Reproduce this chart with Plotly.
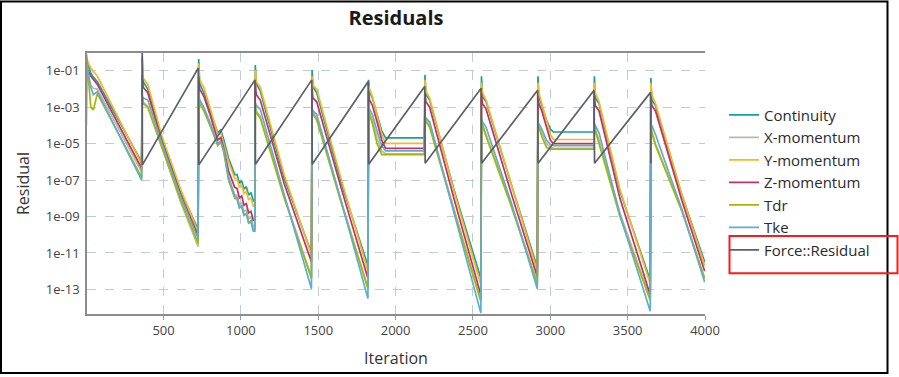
import plotly.graph_objects as go

# ---------------- data ----------------
iterations = [1, 6, 30, 46, 72, 358,
              362, 368, 398, 490, 610, 723,
              727, 733, 760, 800, 850, 870, 890, 920, 960, 975, 990, 1005, 1020, 1035, 1050, 1065, 1080, 1090,
              1093, 1099, 1125, 1280, 1456,
              1460, 1466, 1490, 1650, 1821,
              1825, 1831, 1850, 1880, 1910, 1935, 2186,
              2190, 2196, 2220, 2380, 2551,
              2555, 2561, 2585, 2750, 2916,
              2920, 2926, 2945, 2975, 3000, 3020, 3281,
              3285, 3291, 3315, 3450, 3646,
              3650, 3656, 3680, 3850, 3998]

continuity = [8e-1, 2.8e-1, 7.4e-2, 4.5e-2, 2.5e-2, 1e-6,
              6e-1, 2.5e-2, 1e-2, 2e-5, 2.5e-8, 2e-10,
              4.5e-1, 2e-2, 6.3e-3, 6.3e-4, 4e-5, 5.6e-5, 1.6e-5, 1.6e-6, 2e-7, 2e-7, 6.8e-8, 9.3e-8, 3.2e-8, 4.4e-8, 1.5e-8, 2.1e-8, 7.4e-9, 8.9e-9,
              2.1e-1, 2e-2, 7.9e-3, 1.26e-7, 1e-11,
              1.1e-1, 1.26e-2, 6.3e-3, 6.3e-8, 2e-12,
              3.2e-2, 7.9e-3, 3.2e-3, 4e-4, 5e-5, 2.1e-5, 2.1e-5,
              6e-2, 5e-3, 2.5e-3, 2.5e-8, 4e-13,
              5e-2, 4e-3, 2e-3, 5e-8, 1.6e-12,
              5e-2, 4e-3, 1.26e-3, 2e-4, 6.3e-5, 4.4e-5, 4.4e-5,
              5e-2, 3.2e-3, 1.6e-3, 2.5e-8, 3.2e-13,
              4e-2, 2.5e-3, 1.26e-3, 1.6e-8, 3.2e-12]

x_momentum = [3.2e-1, 5e-2, 1.6e-2, 1.1e-2, 1e-2, 2.8e-7,
              5e-3, 2e-3, 1.1e-3, 6.3e-6, 6.3e-9, 2.2e-11,
              1e-2, 2.5e-3, 1e-3, 1.6e-4, 1e-5, 1.6e-5, 4e-6, 1.6e-7, 1.6e-8, 1.4e-8, 4.6e-9, 5.8e-9, 1.9e-9, 2.3e-9, 7.4e-10, 9.5e-10, 3e-10, 3.2e-10,
              1.6e-3, 6.3e-4, 3.2e-4, 1.26e-8, 5e-13,
              1e-3, 5e-4, 2.5e-4, 6.3e-9, 1.26e-13,
              1e-3, 5e-4, 2e-4, 2e-5, 4e-6, 2.8e-6, 2.8e-6,
              4e-4, 2e-4, 1e-4, 2e-9, 2.5e-14,
              2.5e-4, 1.26e-4, 3.2e-5, 4e-9, 2.5e-13,
              1.6e-4, 1e-4, 4e-5, 1e-5, 6.3e-6, 5.6e-6, 5.6e-6,
              1.26e-4, 6.3e-5, 1.6e-5, 1.6e-9, 3.2e-14,
              1.26e-4, 5e-5, 1e-5, 2.5e-9, 4e-13]

y_momentum = [8e-1, 4e-1, 1.4e-1, 8.9e-2, 5e-2, 7.9e-7,
              3.2e-1, 4e-2, 1.8e-2, 2.5e-5, 3.2e-8, 1.4e-10,
              2.5e-1, 3.2e-2, 1.26e-2, 1e-3, 3.2e-5, 4e-5, 1e-5, 1e-6, 1.26e-7, 1.2e-7, 4e-8, 5.4e-8, 1.8e-8, 2.4e-8, 8.1e-9, 1.1e-8, 3.7e-9, 4e-9,
              1.1e-1, 2.5e-2, 1.26e-2, 2e-7, 7.9e-12,
              5e-2, 1.6e-2, 1e-2, 1e-7, 1e-12,
              1.6e-2, 1e-2, 4e-3, 4e-4, 3.2e-5, 1.05e-5, 1.05e-5,
              3.2e-2, 7.9e-3, 3.2e-3, 2e-8, 1.8e-13,
              2.2e-2, 6.3e-3, 2.5e-3, 5e-8, 1e-12,
              2.2e-2, 6.3e-3, 1.6e-3, 1.6e-4, 3.2e-5, 1.7e-5, 1.7e-5,
              2.2e-2, 6.3e-3, 2e-3, 3.2e-8, 2e-13,
              2.2e-2, 5e-3, 1.6e-3, 1.6e-8, 2e-12]

z_momentum = [5e-1, 1.26e-1, 5e-2, 3.5e-2, 1.8e-2, 4.5e-7,
              6.3e-2, 1.26e-2, 6.3e-3, 1.26e-5, 1.6e-8, 8.9e-11,
              5e-2, 1e-2, 4e-3, 4e-4, 1.6e-5, 2.2e-5, 5e-6, 3.2e-7, 4e-8, 3.5e-8, 1.07e-8, 1.35e-8, 4.2e-9, 5.1e-9, 1.6e-9, 1.95e-9, 6.2e-10, 6.3e-10,
              2.2e-2, 5e-3, 2.5e-3, 6.3e-8, 3.2e-12,
              1e-2, 3.2e-3, 2e-3, 3.2e-8, 4e-13,
              7.9e-3, 2.5e-3, 1.26e-3, 1.6e-4, 1.6e-5, 5.6e-6, 5.6e-6,
              6.3e-3, 2e-3, 1e-3, 7.9e-9, 5e-14,
              6.3e-3, 1.6e-3, 7.9e-4, 1.6e-8, 5e-13,
              4e-3, 1.6e-3, 6.3e-4, 7.9e-5, 1.6e-5, 1e-5, 1e-5,
              4e-3, 1.26e-3, 6.3e-4, 1e-8, 5e-14,
              4e-3, 1.26e-3, 6.3e-4, 7.9e-9, 1e-12]

tdr = [1e-4, 2.5e-1, 1e-3, 7.1e-4, 5.6e-3, 1.4e-7,
       4e-3, 1.6e-3, 1e-3, 6.3e-6, 7.9e-9, 3.5e-11,
       6.3e-3, 1.6e-3, 6.3e-4, 1e-4, 7.9e-6, 1.26e-5, 3.2e-6, 1e-7, 1e-8, 8.9e-9, 2.9e-9, 3.6e-9, 1.17e-9, 1.5e-9, 4.7e-10, 6e-10, 1.9e-10, 2e-10,
       1.26e-3, 5e-4, 2.5e-4, 1e-8, 4e-13,
       7.9e-4, 4e-4, 2e-4, 5e-9, 1.1e-13,
       7.9e-4, 4e-4, 1.26e-4, 1e-5, 2.5e-6, 2.5e-6, 2.5e-6,
       3.2e-4, 1.6e-4, 7.9e-5, 1.6e-9, 2.2e-14,
       2e-4, 1e-4, 2.5e-5, 3.2e-9, 2e-13,
       1.26e-4, 7.9e-5, 2.5e-5, 6.3e-6, 5e-6, 5e-6, 5e-6,
       1e-4, 5e-5, 1e-5, 1e-9, 2.5e-14,
       1e-4, 4e-5, 7.9e-6, 2e-9, 4e-13]

tke = [5e-1, 1.6e-1, 1.26e-2, 5e-3, 7.1e-3, 1e-7,
       4e-3, 3.2e-3, 2.5e-3, 1e-5, 1.26e-8, 6.3e-11,
       4e-3, 2.5e-3, 1e-3, 1.26e-4, 1e-5, 1.26e-5, 4e-6, 1.26e-7, 1.26e-8, 1.07e-8, 3.2e-9, 3.9e-9, 1.17e-9, 1.4e-9, 4.3e-10, 5.2e-10, 1.6e-10, 1.6e-10,
       1.8e-3, 1.26e-3, 7.9e-4, 1.6e-8, 1.1e-13,
       7.9e-4, 6.3e-4, 4e-4, 6.3e-9, 3.2e-14,
       1e-3, 7.9e-4, 4e-4, 5e-5, 7.9e-6, 4e-6, 4e-6,
       3.2e-4, 2.5e-4, 1.6e-4, 1.26e-9, 5e-15,
       2.1e-4, 1.6e-4, 7.9e-5, 5e-9, 1.1e-13,
       1.4e-4, 1.26e-4, 6.3e-5, 1.6e-5, 8.9e-6, 7.9e-6, 7.9e-6,
       1.15e-4, 1e-4, 4e-5, 1.26e-9, 6.3e-15,
       1.15e-4, 1e-4, 3.2e-5, 2.5e-9, 2.5e-13]

force_iterations = [362, 363, 725, 728, 1091, 1094, 1458, 1461, 1823, 1826,
                    2188, 2191, 2553, 2556, 2918, 2921, 3283, 3286, 3648, 3651]
force_residual = [2.0, 6.9e-7, 1.45e-1, 6.9e-7, 3.2e-2, 7.4e-7, 3.2e-2, 7.4e-7, 2.6e-2, 7.4e-7,
                  1.4e-2, 8.5e-7, 1.1e-2, 8.5e-7, 8.5e-3, 8.5e-7, 8.5e-3, 8.5e-7, 6.6e-3, 8.5e-7]

x_ticks = [500, 1000, 1500, 2000, 2500, 3000, 3500, 4000]
y_ticks = [1e-1, 1e-3, 1e-5, 1e-7, 1e-9, 1e-11, 1e-13]
y_tick_labels = ["1e-01", "1e-03", "1e-05", "1e-07", "1e-09", "1e-11", "1e-13"]

series = [
    ("Continuity", continuity, "#15a1a1"),
    ("X-momentum", x_momentum, "#b4bcae"),
    ("Y-momentum", y_momentum, "#f7b91e"),
    ("Z-momentum", z_momentum, "#c1306b"),
    ("Tdr", tdr, "#a6b703"),
    ("Tke", tke, "#5eaecd"),
]

FONT = "Open Sans"
fig = go.Figure()
for name, vals, col in series:
    fig.add_trace(go.Scatter(x=iterations, y=vals, name=name, mode="lines",
                             line=dict(color=col, width=1.7)))
fig.add_trace(go.Scatter(x=force_iterations, y=force_residual, name="Force::Residual",
                         mode="lines", line=dict(color="#5b5f67", width=1.7)))

# plot area: x 87..705 px, y 53..316 px
L, R, T, B = 87, 705, 53, 316
W, H = 899, 377
pw, ph = R - L, B - T

def px_x(p):
    return (p - L) / pw

def px_y(p):
    return (B - p) / ph

fig.update_layout(
    width=W, height=H,
    margin=dict(l=L, r=W - R, t=T, b=H - B),
    paper_bgcolor="white", plot_bgcolor="white",
    font=dict(family=FONT, color="#333333", size=13),
    title=dict(text="<b>Residuals</b>", x=0.5, xref="paper", xanchor="center",
               y=1 - 18 / H, yref="container", yanchor="middle",
               font=dict(family=FONT, size=20, color="#1a1a1a")),
    showlegend=True,
    legend=dict(x=px_x(724), y=px_y(99), xanchor="left", yanchor="top",
                font=dict(family=FONT, size=15, color="#2b2b2b"),
                bgcolor="rgba(0,0,0,0)", tracegroupgap=0),
    shapes=[
        dict(type="rect", xref="paper", yref="paper",
             x0=px_x(1), x1=px_x(887.5), y0=px_y(375.5), y1=px_y(1),
             line=dict(color="black", width=2), fillcolor="rgba(0,0,0,0)"),
        dict(type="rect", xref="paper", yref="paper",
             x0=px_x(729.5), x1=px_x(897.5), y0=px_y(275), y1=px_y(237.5),
             line=dict(color="#ff1a1a", width=2), fillcolor="rgba(0,0,0,0)"),
    ],
)

fig.update_xaxes(
    range=[5, 4000], tickvals=x_ticks, ticktext=[str(v) for v in x_ticks],
    showgrid=True, gridcolor="#c3cad2", griddash="dash", gridwidth=1.3,
    showline=True, linecolor="#8c8c8c", linewidth=1.5, mirror=True,
    ticks="outside", ticklen=4, tickcolor="#9a9a9a",
    tickfont=dict(family=FONT, size=13, color="#444444"),
    title=dict(text="Iteration", font=dict(family=FONT, size=16, color="#333333"), standoff=14),
    zeroline=False,
)
fig.update_yaxes(
    type="log", range=[-14.35, -0.02], tickvals=y_ticks, ticktext=y_tick_labels,
    showgrid=True, gridcolor="#c3cad2", griddash="dash", gridwidth=1.3,
    showline=True, linecolor="#8c8c8c", linewidth=1.5, mirror=False,
    ticks="outside", ticklen=3, tickcolor="rgba(0,0,0,0)",
    tickfont=dict(family=FONT, size=13, color="#444444"),
    title=dict(text="Residual", font=dict(family=FONT, size=16, color="#333333"), standoff=12),
    zeroline=False,
)

fig.write_html("out.html", config={"displayModeBar": False},
               post_script="document.body.style.margin='0px';")
